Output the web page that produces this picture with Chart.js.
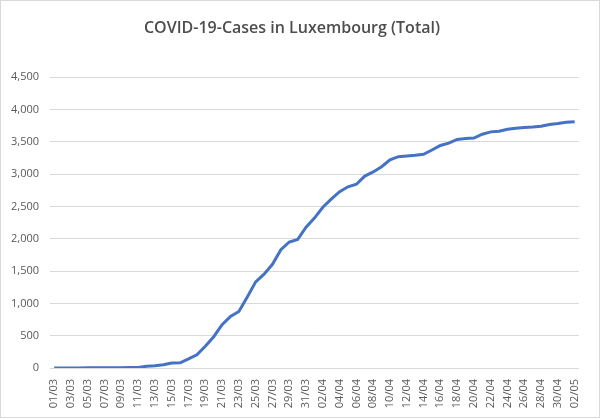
<!DOCTYPE html>
<html lang="en">
	<head>
		<meta charset="utf-8" />
		<title>COVID-19-Cases in Luxembourg (Total)</title>
		<script src="https://cdn.jsdelivr.net/npm/chart.js"></script>
		<style>
			html, body { margin: 0; padding: 0; background: #fff; }
			#box {
				width: 600px;
				height: 418px;
				box-sizing: border-box;
				border: 1px solid #d9d9d9;
			}
		</style>
	</head>
	<body>
		<div id="box">
			<canvas id="cases" width="598" height="416"></canvas>
		</div>

		<script>
			// dates 01/03 .. 02/05
			var dayLabels = [
				"01/03", "02/03", "03/03", "04/03", "05/03", "06/03", "07/03", "08/03", "09/03", "10/03",
				"11/03", "12/03", "13/03", "14/03", "15/03", "16/03", "17/03", "18/03", "19/03", "20/03",
				"21/03", "22/03", "23/03", "24/03", "25/03", "26/03", "27/03", "28/03", "29/03", "30/03",
				"31/03", "01/04", "02/04", "03/04", "04/04", "05/04", "06/04", "07/04", "08/04", "09/04",
				"10/04", "11/04", "12/04", "13/04", "14/04", "15/04", "16/04", "17/04", "18/04", "19/04",
				"20/04", "21/04", "22/04", "23/04", "24/04", "25/04", "26/04", "27/04", "28/04", "29/04",
				"30/04", "01/05", "02/05"
			];

			// total cases
			var totalCases = [
				1, 1, 1, 1, 2, 3, 4, 5, 5, 7,
				7, 26, 34, 51, 77, 81, 140, 203, 335, 484,
				670, 798, 875, 1099, 1333, 1453, 1605, 1831, 1950, 1988,
				2178, 2319, 2487, 2612, 2729, 2804, 2843, 2970, 3034, 3115,
				3223, 3270, 3281, 3292, 3307, 3373, 3444, 3480, 3537, 3550,
				3558, 3618, 3654, 3665, 3695, 3711, 3723, 3729, 3741, 3769,
				3784, 3802, 3811
			];

			var yMax = 4500;
			var yStep = 500;

			var grey = "#595959";

			var config = {
				type: "line",
				data: {
					labels: dayLabels,
					datasets: [
						{
							label: "Total",
							data: totalCases,
							borderColor: "#4472c4",
							borderWidth: 3,
							pointRadius: 0,
							tension: 0,
							fill: false,
						},
					],
				},
				options: {
					responsive: false,
					animation: false,
					layout: {
						padding: { left: 0, right: 16, top: 0, bottom: 0 },
					},
					plugins: {
						legend: { display: false },
						tooltip: { enabled: false },
						title: {
							display: true,
							text: "COVID-19-Cases in Luxembourg (Total)",
							color: "#4d4d4d",
							font: { family: "Open Sans", size: 16, weight: "600" },
							padding: { top: 18, bottom: 39 },
						},
					},
					scales: {
						x: {
							offset: true,
							grid: { display: false, drawTicks: false },
							border: { display: true, color: "#d9d9d9", width: 1 },
							ticks: {
								autoSkip: false,
								maxRotation: 90,
								minRotation: 90,
								padding: 11,
								color: grey,
								font: { family: "Open Sans", size: 11 },
								callback: function (val, idx) {
									// every other date, as in the original
									return idx % 2 === 0 ? dayLabels[idx] : "";
								},
							},
							afterFit: function (scale) {
								scale.height = 49;
							},
						},
						y: {
							min: 0,
							max: yMax,
							grid: { color: "#d9d9d9", drawTicks: false },
							border: { display: false },
							ticks: {
								stepSize: yStep,
								padding: 11,
								color: grey,
								font: { family: "Open Sans", size: 11 },
								callback: function (v) {
									return v.toLocaleString("en-US");
								},
							},
							afterFit: function (scale) {
								scale.width = 49;
							},
						},
					},
				},
			};

			var casesChart = new Chart(document.getElementById("cases"), config);
		</script>
	</body>
</html>
